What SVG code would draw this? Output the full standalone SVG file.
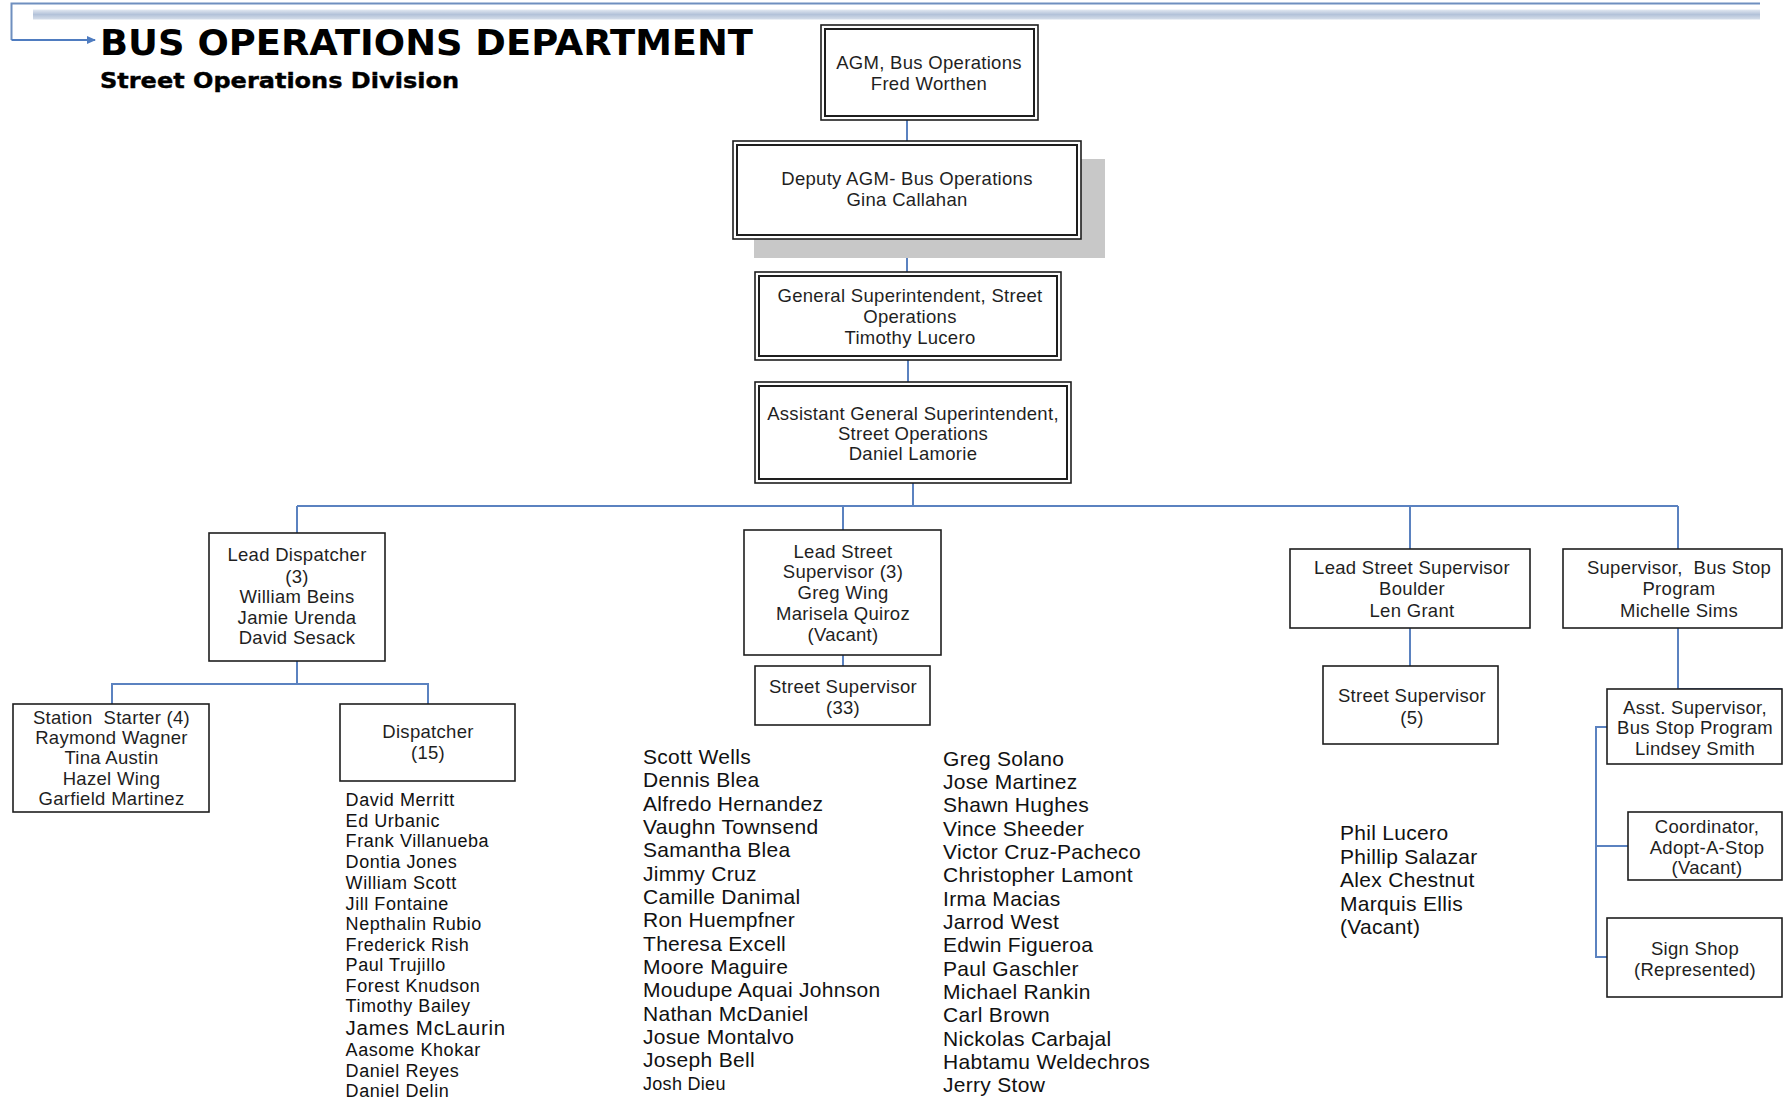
<svg xmlns="http://www.w3.org/2000/svg" width="1783" height="1105" viewBox="0 0 1783 1105">
<defs>
<linearGradient id="band" x1="0" y1="0" x2="0" y2="1">
<stop offset="0" stop-color="#e3e9f2"/>
<stop offset="0.5" stop-color="#b3c2d9"/>
<stop offset="1" stop-color="#d6deea"/>
</linearGradient>
<marker id="arr" markerWidth="10" markerHeight="10" refX="8" refY="5" orient="auto" markerUnits="userSpaceOnUse">
<path d="M0,1 L9,5 L0,9 Z" fill="#4f7cc0"/>
</marker>
<style>
.box{fill:#fff;stroke:#1e1e1e;stroke-width:1.6}
.in{fill:none;stroke:#1e1e1e;stroke-width:2}
.t{font-family:"Liberation Sans",Arial,sans-serif;font-size:18.5px;letter-spacing:0.3px;fill:#1f1f1f;text-anchor:middle}
.n{font-family:"Liberation Sans",Arial,sans-serif;font-size:21px;letter-spacing:0.3px;fill:#111}
.d{font-family:"Liberation Sans",Arial,sans-serif;font-size:18px;letter-spacing:0.55px;fill:#111}
.c{fill:none;stroke:#5b82c0;stroke-width:2}
.h{font-family:"DejaVu Sans",sans-serif;font-weight:bold;fill:#000}
</style>
</defs>
<rect width="1783" height="1105" fill="#fff"/>

<g id="header">
<rect x="33" y="9.5" width="1727" height="10" fill="url(#band)"/>
<path d="M11.5 40 V3.5 H1760" fill="none" stroke="#6f8fbf" stroke-width="2"/>
<path d="M11.5 40 H95" fill="none" stroke="#4f7cc0" stroke-width="2" marker-end="url(#arr)"/>
<text class="h" x="100" y="55" font-size="36" textLength="653" lengthAdjust="spacingAndGlyphs">BUS OPERATIONS DEPARTMENT</text>
<text class="h" x="100" y="88" font-size="22" textLength="359" lengthAdjust="spacingAndGlyphs" stroke="#000" stroke-width="0.4">Street Operations Division</text>
</g>

<g id="connectors">
<path class="c" d="M907 120 V141"/>
<path class="c" d="M907 239 V272"/>
<path class="c" d="M908 360 V383 H759 V393"/>
<path class="c" d="M913 483 V506"/>
<path class="c" d="M297 506 H1678"/>
<path class="c" d="M297 506 V533 M843 506 V530 M1410 506 V549 M1678 506 V549"/>
<path class="c" d="M297 661 V684 M112 704 V684 H428 V704"/>
<path class="c" d="M843 655 V666"/>
<path class="c" d="M1410 628 V666"/>
<path class="c" d="M1678 628 V689 H1781 V698"/>
<path class="c" d="M1607 727 H1596 V957 H1607 M1596 846 H1628"/>
</g>

<g id="agm">
<rect class="box" x="821" y="25" width="217" height="95"/>
<rect class="in" x="825" y="29" width="209" height="87"/>
<text class="t" x="929" y="69">AGM, Bus Operations</text>
<text class="t" x="929" y="89.5">Fred Worthen</text>
</g>

<g id="deputy">
<rect x="754" y="159" width="351" height="99" fill="#c8c8c8"/>
<rect class="box" x="733" y="141" width="348" height="98"/>
<rect class="in" x="737" y="145" width="340" height="90"/>
<text class="t" x="907" y="185">Deputy AGM- Bus Operations</text>
<text class="t" x="907" y="205.5">Gina Callahan</text>
</g>

<g id="gen-super">
<rect class="box" x="755" y="272" width="306" height="88"/>
<rect class="in" x="759" y="276" width="298" height="80"/>
<text class="t" x="910" y="301.5">General Superintendent, Street</text>
<text class="t" x="910" y="322.5">Operations</text>
<text class="t" x="910" y="343.5">Timothy Lucero</text>
</g>

<g id="asst-gen-super">
<rect class="box" x="755" y="382" width="316" height="101"/>
<rect class="in" x="759" y="386" width="308" height="93"/>
<text class="t" x="913" y="419.5">Assistant General Superintendent,</text>
<text class="t" x="913" y="439.5">Street Operations</text>
<text class="t" x="913" y="459.5">Daniel Lamorie</text>
</g>

<g id="lead-dispatcher">
<rect class="box" x="209" y="533" width="176" height="128"/>
<text class="t" x="297" y="561">Lead Dispatcher</text>
<text class="t" x="297" y="583">(3)</text>
<text class="t" x="297" y="603">William Beins</text>
<text class="t" x="297" y="623.5">Jamie Urenda</text>
<text class="t" x="297" y="644">David Sesack</text>
</g>

<g id="station-starter">
<rect class="box" x="13" y="704" width="196" height="108"/>
<text class="t" x="111.5" y="723.5">Station&#160; Starter (4)</text>
<text class="t" x="111.5" y="744">Raymond Wagner</text>
<text class="t" x="111.5" y="764">Tina Austin</text>
<text class="t" x="111.5" y="784.5">Hazel Wing</text>
<text class="t" x="111.5" y="805">Garfield Martinez</text>
</g>

<g id="dispatcher">
<rect class="box" x="340" y="704" width="175" height="77"/>
<text class="t" x="428" y="738">Dispatcher</text>
<text class="t" x="428" y="759">(15)</text>
</g>

<g id="dispatcher-names">
<text class="d" x="345.6" y="806">David Merritt</text>
<text class="d" x="345.6" y="826.5">Ed Urbanic</text>
<text class="d" x="345.6" y="847">Frank Villanueba</text>
<text class="d" x="345.6" y="868">Dontia Jones</text>
<text class="d" x="345.6" y="889">William Scott</text>
<text class="d" x="345.6" y="909.5">Jill Fontaine</text>
<text class="d" x="345.6" y="930">Nepthalin Rubio</text>
<text class="d" x="345.6" y="950.5">Frederick Rish</text>
<text class="d" x="345.6" y="971">Paul Trujillo</text>
<text class="d" x="345.6" y="991.5">Forest Knudson</text>
<text class="d" x="345.6" y="1012">Timothy Bailey</text>
<text class="d" x="345.6" y="1034.5" style="font-size:20.5px;letter-spacing:0.7px">James McLaurin</text>
<text class="d" x="345.6" y="1055.5">Aasome Khokar</text>
<text class="d" x="345.6" y="1076.5">Daniel Reyes</text>
<text class="d" x="345.6" y="1097">Daniel Delin</text>
</g>

<g id="lead-street-supervisor">
<rect class="box" x="744" y="530" width="197" height="125"/>
<text class="t" x="843" y="557.5">Lead Street</text>
<text class="t" x="843" y="578">Supervisor (3)</text>
<text class="t" x="843" y="599">Greg Wing</text>
<text class="t" x="843" y="620">Marisela Quiroz</text>
<text class="t" x="843" y="640.5">(Vacant)</text>
</g>

<g id="street-supervisor-33">
<rect class="box" x="755" y="666" width="175" height="59"/>
<text class="t" x="843" y="692.5">Street Supervisor</text>
<text class="t" x="843" y="713.5">(33)</text>
</g>

<g id="street-supervisor-names">
<text class="n" x="643" y="764">Scott Wells</text>
<text class="n" x="643" y="787.3">Dennis Blea</text>
<text class="n" x="643" y="810.6">Alfredo Hernandez</text>
<text class="n" x="643" y="834">Vaughn Townsend</text>
<text class="n" x="643" y="857.3">Samantha Blea</text>
<text class="n" x="643" y="880.6">Jimmy Cruz</text>
<text class="n" x="643" y="904">Camille Danimal</text>
<text class="n" x="643" y="927.3">Ron Huempfner</text>
<text class="n" x="643" y="950.6">Theresa Excell</text>
<text class="n" x="643" y="974">Moore Maguire</text>
<text class="n" x="643" y="997.3">Moudupe Aquai Johnson</text>
<text class="n" x="643" y="1020.6">Nathan McDaniel</text>
<text class="n" x="643" y="1044">Josue Montalvo</text>
<text class="n" x="643" y="1067.3">Joseph Bell</text>
<text class="n" x="643" y="1089.5" style="font-size:18px">Josh Dieu</text>
<text class="n" x="943" y="765.6">Greg Solano</text>
<text class="n" x="943" y="789">Jose Martinez</text>
<text class="n" x="943" y="812.3">Shawn Hughes</text>
<text class="n" x="943" y="835.6">Vince Sheeder</text>
<text class="n" x="943" y="859">Victor Cruz-Pacheco</text>
<text class="n" x="943" y="882.3">Christopher Lamont</text>
<text class="n" x="943" y="905.6">Irma Macias</text>
<text class="n" x="943" y="929">Jarrod West</text>
<text class="n" x="943" y="952.3">Edwin Figueroa</text>
<text class="n" x="943" y="975.6">Paul Gaschler</text>
<text class="n" x="943" y="999">Michael Rankin</text>
<text class="n" x="943" y="1022.3">Carl Brown</text>
<text class="n" x="943" y="1045.6">Nickolas Carbajal</text>
<text class="n" x="943" y="1069">Habtamu Weldechros</text>
<text class="n" x="943" y="1092.3">Jerry Stow</text>
</g>

<g id="lead-street-supervisor-boulder">
<rect class="box" x="1290" y="549" width="240" height="79"/>
<text class="t" x="1412" y="573.5">Lead Street Supervisor</text>
<text class="t" x="1412" y="594.5">Boulder</text>
<text class="t" x="1412" y="616.5">Len Grant</text>
</g>

<g id="street-supervisor-5">
<rect class="box" x="1323" y="666" width="175" height="78"/>
<text class="t" x="1412" y="701.5">Street Supervisor</text>
<text class="t" x="1412" y="723.5">(5)</text>
</g>

<g id="boulder-names">
<text class="n" x="1340" y="840">Phil Lucero</text>
<text class="n" x="1340" y="864">Phillip Salazar</text>
<text class="n" x="1340" y="887">Alex Chestnut</text>
<text class="n" x="1340" y="910.5">Marquis Ellis</text>
<text class="n" x="1340" y="934">(Vacant)</text>
</g>

<g id="supervisor-bus-stop">
<rect class="box" x="1563" y="549" width="219" height="79"/>
<text class="t" x="1679" y="573.5">Supervisor,&#160; Bus Stop</text>
<text class="t" x="1679" y="594.5">Program</text>
<text class="t" x="1679" y="616.5">Michelle Sims</text>
</g>

<g id="asst-supervisor">
<rect class="box" x="1607" y="689" width="175" height="75"/>
<text class="t" x="1695" y="713.5">Asst. Supervisor,</text>
<text class="t" x="1695" y="733.5">Bus Stop Program</text>
<text class="t" x="1695" y="754.5">Lindsey Smith</text>
</g>

<g id="coordinator">
<rect class="box" x="1628" y="812" width="154" height="68"/>
<text class="t" x="1707" y="832.5">Coordinator,</text>
<text class="t" x="1707" y="853.5">Adopt-A-Stop</text>
<text class="t" x="1707" y="873.5">(Vacant)</text>
</g>

<g id="sign-shop">
<rect class="box" x="1607" y="918" width="175" height="79"/>
<text class="t" x="1695" y="954.5">Sign Shop</text>
<text class="t" x="1695" y="975.5">(Represented)</text>
</g>
</svg>
